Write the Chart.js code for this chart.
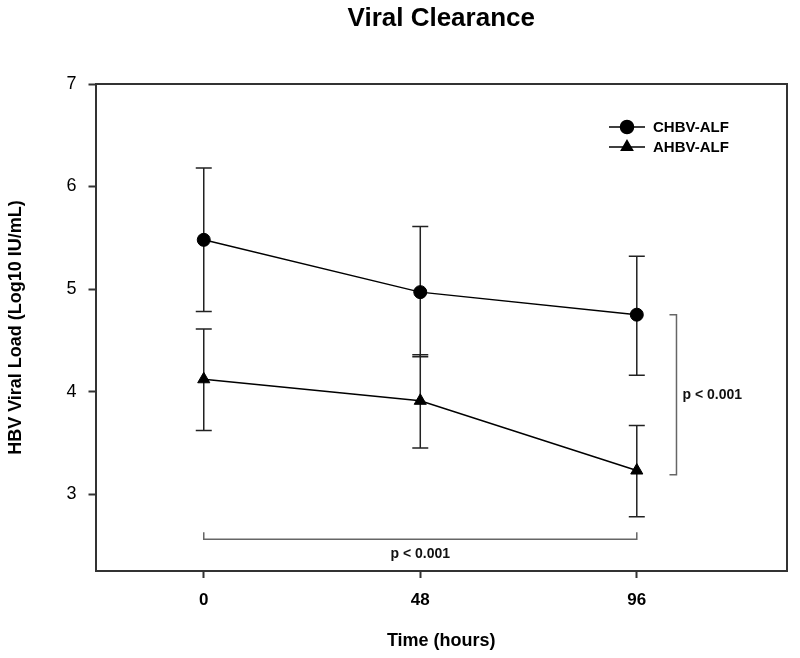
<!DOCTYPE html>
<html>
<head>
<meta charset="utf-8">
<script src="https://cdn.jsdelivr.net/npm/chart.js"></script>
<style>
  html, body { margin: 0; padding: 0; background: #fff; }
  #wrap { width: 800px; height: 658px; }
</style>
</head>
<body>
<div id="wrap"><canvas id="myChart" width="800" height="658"></canvas></div>
<script>
// data
const hours = [0, 48, 96];
const chbvMean = [5.48, 4.97, 4.75];
const chbvHigh = [6.18, 5.61, 5.32];
const chbvLow  = [4.78, 4.34, 4.16];
const ahbvMean = [4.12, 3.91, 3.23];
const ahbvHigh = [4.61, 4.36, 3.67];
const ahbvLow  = [3.62, 3.45, 2.78];
const xTicks = [0, 48, 96];
const yTicks = [3, 4, 5, 6, 7];
const seriesNames = ['CHBV-ALF', 'AHBV-ALF'];
// significance brackets (data units)
const vBracket = { x: 104.8, from: 4.75, to: 3.19, label: 'p < 0.001' };
const hBracket = { y: 2.56, from: 0, to: 96, label: 'p < 0.001' };

const FONT = "'Liberation Sans', Arial, sans-serif";

const errorBars = {
  id: 'errorBars',
  beforeDatasetsDraw(chart) {
    const ctx = chart.ctx, xs = chart.scales.x, ys = chart.scales.y;
    ctx.save();
    ctx.strokeStyle = '#222';
    ctx.lineWidth = 1.5;
    [[chbvHigh, chbvLow], [ahbvHigh, ahbvLow]].forEach(([hi, lo]) => {
      hours.forEach((h, i) => {
        const x = xs.getPixelForValue(h);
        const y1 = ys.getPixelForValue(hi[i]), y2 = ys.getPixelForValue(lo[i]);
        ctx.beginPath();
        ctx.moveTo(x, y1); ctx.lineTo(x, y2);
        ctx.moveTo(x - 8, y1); ctx.lineTo(x + 8, y1);
        ctx.moveTo(x - 8, y2); ctx.lineTo(x + 8, y2);
        ctx.stroke();
      });
    });
    ctx.restore();
  },
  afterDraw(chart) {
    const ctx = chart.ctx, xs = chart.scales.x, ys = chart.scales.y, a = chart.chartArea;
    ctx.save();
    // frame top/right
    ctx.strokeStyle = '#333';
    ctx.lineWidth = 2;
    ctx.beginPath();
    ctx.moveTo(a.left, a.top); ctx.lineTo(a.right, a.top); ctx.lineTo(a.right, a.bottom);
    ctx.stroke();

    // brackets
    ctx.strokeStyle = '#666';
    ctx.lineWidth = 1.5;
    const bx = xs.getPixelForValue(vBracket.x);
    const by1 = ys.getPixelForValue(vBracket.from), by2 = ys.getPixelForValue(vBracket.to);
    ctx.beginPath();
    ctx.moveTo(bx - 7, by1); ctx.lineTo(bx, by1); ctx.lineTo(bx, by2); ctx.lineTo(bx - 7, by2);
    ctx.stroke();
    const hy = ys.getPixelForValue(hBracket.y);
    const hx1 = xs.getPixelForValue(hBracket.from), hx2 = xs.getPixelForValue(hBracket.to);
    ctx.beginPath();
    ctx.moveTo(hx1, hy - 7); ctx.lineTo(hx1, hy); ctx.lineTo(hx2, hy); ctx.lineTo(hx2, hy - 7);
    ctx.stroke();

    ctx.fillStyle = '#111';
    ctx.font = 'bold 14px ' + FONT;
    ctx.textBaseline = 'middle';
    ctx.textAlign = 'left';
    ctx.fillText(vBracket.label, bx + 6, (by1 + by2) / 2);
    ctx.textAlign = 'center';
    ctx.fillText(hBracket.label, (hx1 + hx2) / 2, hy + 15);

    // title
    ctx.font = 'bold 26px ' + FONT;
    ctx.fillStyle = '#000';
    ctx.fillText('Viral Clearance', (a.left + a.right) / 2, 19);

    // legend
    const lx = 609, lw = 36;
    ['circle', 'triangle'].forEach((style, i) => {
      const ly = 127 + i * 20;
      ctx.strokeStyle = '#000';
      ctx.lineWidth = 1.5;
      ctx.beginPath(); ctx.moveTo(lx, ly); ctx.lineTo(lx + lw, ly); ctx.stroke();
      ctx.fillStyle = '#000';
      Chart.helpers.drawPoint(ctx, { pointStyle: style, radius: 6.5, borderWidth: 1 }, lx + lw / 2, ly);
      ctx.font = 'bold 15px ' + FONT;
      ctx.textAlign = 'left';
      ctx.fillText(seriesNames[i], 653, ly + 1);
    });
    ctx.restore();
  }
};

new Chart(document.getElementById('myChart'), {
  type: 'line',
  data: {
    datasets: [
      {
        label: seriesNames[0],
        data: hours.map((h, i) => ({ x: h, y: chbvMean[i] })),
        borderColor: '#000', backgroundColor: '#000', borderWidth: 1.5,
        pointStyle: 'circle', pointRadius: 6.5, pointBorderWidth: 1
      },
      {
        label: seriesNames[1],
        data: hours.map((h, i) => ({ x: h, y: ahbvMean[i] })),
        borderColor: '#000', backgroundColor: '#000', borderWidth: 1.5,
        pointStyle: 'triangle', pointRadius: 7, pointBorderWidth: 1
      }
    ]
  },
  options: {
    responsive: false,
    animation: false,
    layout: { padding: { top: 84, right: 13, left: 0, bottom: 0 } },
    plugins: { legend: { display: false }, tooltip: { enabled: false } },
    scales: {
      x: {
        type: 'linear', min: -24, max: 129.3,
        afterBuildTicks: s => { s.ticks = xTicks.map(v => ({ value: v })); },
        afterFit: s => { s.height = 87; },
        grid: { drawOnChartArea: false, tickLength: 7, tickColor: '#333', tickWidth: 2 },
        border: { color: '#333', width: 2 },
        ticks: { color: '#000', padding: 12, font: { family: FONT, size: 17, weight: 'bold' } },
        title: { display: true, text: 'Time (hours)', color: '#000', padding: { top: 4, bottom: 6 },
                 font: { family: FONT, size: 18, weight: 'bold' } }
      },
      y: {
        min: 2.25, max: 7,
        afterBuildTicks: s => { s.ticks = yTicks.map(v => ({ value: v })); },
        afterFit: s => { s.width = 95.5; },
        grid: { drawOnChartArea: false, tickLength: 7, tickColor: '#333', tickWidth: 2 },
        border: { color: '#333', width: 2 },
        ticks: { color: '#000', padding: 12, font: { family: FONT, size: 18 } },
        title: { display: true, text: 'HBV Viral Load (Log10 IU/mL)', color: '#000', padding: { top: 5, bottom: 4 },
                 font: { family: FONT, size: 18, weight: 'bold' } }
      }
    }
  },
  plugins: [errorBars]
});
</script>
</body>
</html>
